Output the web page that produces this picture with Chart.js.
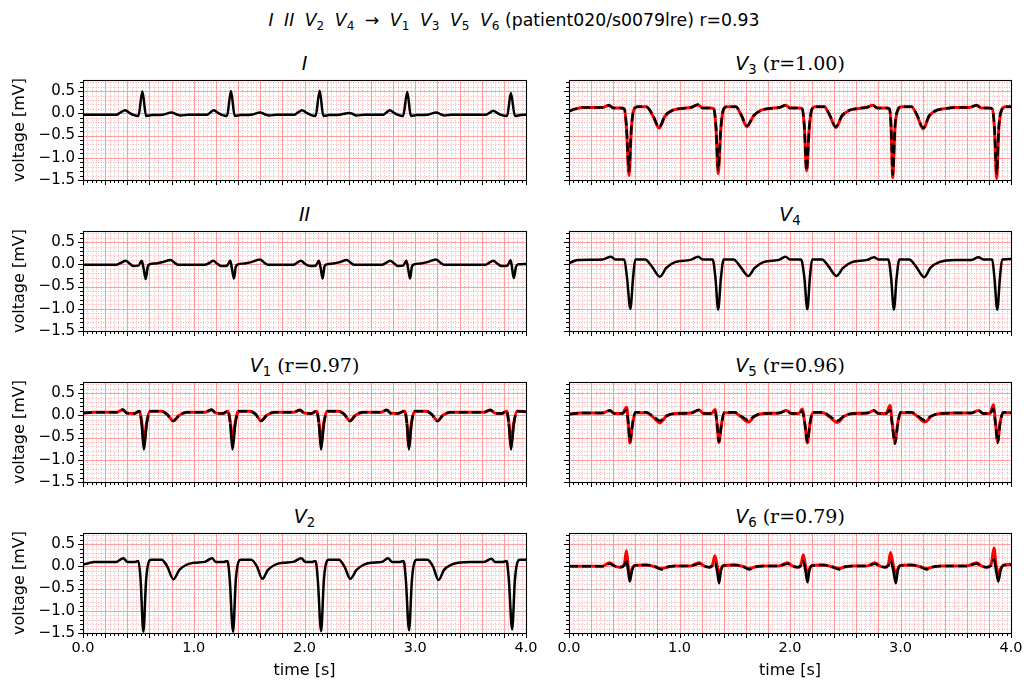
<!DOCTYPE html>
<html><head><meta charset="utf-8">
<script src="https://cdn.jsdelivr.net/npm/chart.js@4.4.1/dist/chart.umd.min.js"></script>
<style>
html,body{margin:0;padding:0;background:#fff;width:1028px;height:685px;overflow:hidden;font-family:'DejaVu Sans';}
canvas{position:absolute;}
.ttl{position:absolute;text-align:center;font-size:19px;line-height:22px;color:#000;white-space:nowrap;font-family:'DejaVu Sans';}
.ttl sub{font-size:0.7em;vertical-align:-0.3em;line-height:0;font-style:normal;}
.serif{font-family:'DejaVu Serif';}
.math{word-spacing:5px;}
</style></head><body>
<div class="ttl" style="left:0;width:1028px;top:9px;font-size:17.3px"><span class="math"><i>I</i> <i>II</i> <i>V</i><sub>2</sub> <i>V</i><sub>4</sub> → <i>V</i><sub>1</sub> <i>V</i><sub>3</sub> <i>V</i><sub>5</sub> <i>V</i><sub>6</sub></span> (patient020/s0079lre) r=0.93</div>
<div class="ttl" style="left:83px;width:443px;top:52px"><i>I</i></div>
<div class="ttl" style="left:569px;width:442px;top:52px"><i>V</i><sub>3</sub> <span class="serif">(r=1.00)</span></div>
<div class="ttl" style="left:83px;width:443px;top:203px"><i>II</i></div>
<div class="ttl" style="left:569px;width:442px;top:203px"><i>V</i><sub>4</sub></div>
<div class="ttl" style="left:83px;width:443px;top:354px"><i>V</i><sub>1</sub> <span class="serif">(r=0.97)</span></div>
<div class="ttl" style="left:569px;width:442px;top:354px"><i>V</i><sub>5</sub> <span class="serif">(r=0.96)</span></div>
<div class="ttl" style="left:83px;width:443px;top:505px"><i>V</i><sub>2</sub></div>
<div class="ttl" style="left:569px;width:442px;top:505px"><i>V</i><sub>6</sub> <span class="serif">(r=0.79)</span></div>
<script>
// ---------------- data ----------------
const xTickLabels = ['0.0','1.0','2.0','3.0','4.0'];
const yTickLabels = ['\u22121.5','\u22121.0','\u22120.5','0.0','0.5'];

const tI = [0.00,0.30,0.34,0.38,0.42,0.46,0.50,0.536,0.57,0.62,0.72,0.80,0.84,0.88,0.95,
  1.12,1.15,1.18,1.22,1.26,1.30,1.336,1.37,1.42,1.52,1.60,1.64,1.68,1.75,
  1.91,1.94,1.978,2.02,2.06,2.10,2.137,2.17,2.22,2.32,2.405,2.44,2.47,2.54,
  2.71,2.74,2.77,2.81,2.85,2.89,2.928,2.96,3.01,3.11,3.19,3.23,3.26,3.33,
  3.64,3.67,3.704,3.74,3.78,3.83,3.863,3.90,3.95,4.00];
const vI = [-0.03,-0.03,0.02,0.07,0.01,-0.04,-0.06,0.49,-0.06,-0.04,-0.03,0.02,-0.02,-0.05,-0.03,
  -0.03,0.02,0.07,0.01,-0.04,-0.06,0.50,-0.06,-0.04,-0.03,0.02,-0.02,-0.05,-0.03,
  -0.03,0.02,0.07,0.01,-0.04,-0.06,0.51,-0.06,-0.04,-0.03,0.01,-0.02,-0.05,-0.03,
  -0.03,0.02,0.07,0.01,-0.04,-0.06,0.48,-0.06,-0.04,-0.03,0.02,-0.02,-0.05,-0.03,
  -0.03,0.01,0.06,0.01,-0.04,-0.06,0.46,-0.06,-0.04,-0.03];

const tII = [0.00,0.30,0.34,0.385,0.42,0.455,0.50,0.53,0.548,0.566,0.585,0.60,0.66,0.72,0.79,0.83,0.86,
  1.10,1.14,1.177,1.21,1.25,1.30,1.33,1.345,1.363,1.38,1.40,1.46,1.52,1.598,1.64,1.67,
  1.90,1.93,1.968,2.00,2.05,2.10,2.13,2.147,2.164,2.18,2.20,2.26,2.32,2.38,2.42,2.45,
  2.70,2.735,2.772,2.81,2.845,2.89,2.92,2.936,2.953,2.97,2.99,3.05,3.11,3.187,3.23,3.26,
  3.63,3.665,3.705,3.74,3.78,3.83,3.862,3.875,3.89,3.91,3.93,4.00];
const vII = [-0.01,-0.01,0.03,0.08,0.02,-0.04,-0.03,0.08,-0.10,-0.33,-0.05,0.00,0.02,0.05,0.10,0.03,-0.01,
  -0.01,0.03,0.08,0.02,-0.04,-0.03,0.08,-0.10,-0.32,-0.05,0.00,0.02,0.05,0.11,0.03,-0.01,
  -0.01,0.03,0.08,0.02,-0.04,-0.03,0.08,-0.10,-0.32,-0.05,0.00,0.02,0.05,0.10,0.03,-0.01,
  -0.01,0.03,0.08,0.02,-0.04,-0.03,0.08,-0.10,-0.32,-0.05,0.00,0.02,0.05,0.11,0.03,-0.01,
  -0.01,0.03,0.08,0.02,-0.04,-0.03,0.09,-0.10,-0.31,-0.05,0.00,0.01];

const tV1 = [0.00,0.10,0.30,0.358,0.40,0.46,0.51,0.53,0.55,0.575,0.605,0.71,0.76,0.815,0.87,0.94,
  1.10,1.162,1.20,1.26,1.31,1.33,1.35,1.375,1.405,1.51,1.56,1.607,1.66,1.73,
  1.90,1.96,2.00,2.06,2.11,2.13,2.15,2.175,2.205,2.31,2.36,2.41,2.46,2.53,
  2.69,2.742,2.78,2.84,2.905,2.925,2.943,2.965,2.995,3.10,3.15,3.20,3.25,3.32,
  3.62,3.68,3.72,3.78,3.825,3.845,3.865,3.89,3.92,4.00];
const vV1 = [0.05,0.07,0.07,0.13,0.04,0.04,0.10,-0.20,-0.77,-0.20,0.09,0.09,0.02,-0.13,0.00,0.07,
  0.07,0.13,0.04,0.04,0.10,-0.20,-0.77,-0.20,0.09,0.09,0.02,-0.13,0.00,0.07,
  0.07,0.12,0.04,0.04,0.10,-0.20,-0.77,-0.20,0.09,0.09,0.02,-0.13,0.00,0.07,
  0.07,0.12,0.04,0.04,0.10,-0.20,-0.77,-0.20,0.09,0.09,0.02,-0.13,0.00,0.07,
  0.07,0.12,0.04,0.04,0.10,-0.20,-0.77,-0.20,0.09,0.08];
const pV1 = [0.05,0.07,0.07,0.12,0.05,0.04,0.09,-0.15,-0.59,-0.15,0.09,0.09,0.02,-0.12,0.00,0.07,
  0.07,0.12,0.05,0.04,0.09,-0.15,-0.55,-0.15,0.09,0.09,0.02,-0.12,0.00,0.07,
  0.07,0.12,0.05,0.04,0.09,-0.15,-0.60,-0.15,0.09,0.09,0.02,-0.12,0.00,0.07,
  0.07,0.12,0.05,0.04,0.09,-0.18,-0.70,-0.18,0.09,0.09,0.02,-0.12,0.00,0.07,
  0.07,0.12,0.05,0.04,0.09,-0.16,-0.62,-0.16,0.09,0.08];

const tV2 = [0.00,0.05,0.10,0.30,0.364,0.40,0.47,0.50,0.52,0.545,0.57,0.60,0.62,0.71,0.76,0.816,0.87,0.93,1.00,
  1.10,1.165,1.20,1.27,1.305,1.325,1.355,1.38,1.41,1.43,1.52,1.57,1.62,1.67,1.73,1.80,
  1.90,1.97,2.01,2.07,2.10,2.12,2.15,2.175,2.205,2.225,2.31,2.36,2.414,2.47,2.53,2.60,
  2.70,2.754,2.79,2.86,2.895,2.915,2.944,2.97,3.00,3.02,3.11,3.16,3.21,3.26,3.32,3.39,
  3.50,3.62,3.688,3.72,3.79,3.825,3.845,3.875,3.90,3.93,3.95,4.00];
const vV2 = [0.04,0.07,0.10,0.10,0.18,0.10,0.10,0.12,-0.30,-1.47,-0.30,0.13,0.15,0.15,0.00,-0.29,-0.08,0.03,0.08,
  0.10,0.18,0.10,0.10,0.12,-0.30,-1.47,-0.30,0.13,0.15,0.15,0.00,-0.28,-0.08,0.03,0.08,
  0.10,0.18,0.10,0.10,0.12,-0.30,-1.46,-0.30,0.13,0.15,0.15,0.00,-0.28,-0.08,0.03,0.08,
  0.10,0.18,0.10,0.10,0.12,-0.30,-1.44,-0.30,0.13,0.15,0.15,0.00,-0.31,-0.08,0.03,0.08,
  0.10,0.10,0.17,0.10,0.10,0.12,-0.30,-1.42,-0.30,0.13,0.15,0.15];

const tV3 = [0.00,0.06,0.12,0.30,0.362,0.40,0.47,0.50,0.52,0.543,0.565,0.59,0.62,0.70,0.76,0.815,0.87,0.94,1.02,
  1.10,1.168,1.21,1.28,1.31,1.33,1.35,1.375,1.40,1.43,1.51,1.56,1.61,1.67,1.74,1.82,
  1.90,1.962,2.00,2.08,2.11,2.13,2.15,2.175,2.20,2.23,2.31,2.36,2.415,2.47,2.54,2.62,
  2.69,2.75,2.79,2.87,2.90,2.915,2.93,2.95,2.98,3.01,3.10,3.15,3.206,3.26,3.33,3.41,
  3.50,3.62,3.69,3.73,3.80,3.83,3.85,3.87,3.89,3.92,3.95,4.00];
const vV3 = [0.05,0.10,0.13,0.13,0.18,0.12,0.12,0.10,-0.30,-1.30,-0.30,0.10,0.15,0.15,-0.05,-0.31,-0.05,0.07,0.11,
  0.13,0.20,0.12,0.12,0.10,-0.30,-1.27,-0.30,0.10,0.15,0.15,-0.04,-0.28,-0.05,0.07,0.11,
  0.13,0.18,0.12,0.12,0.10,-0.30,-1.29,-0.30,0.10,0.15,0.15,-0.04,-0.30,-0.05,0.07,0.11,
  0.13,0.18,0.12,0.12,0.10,-0.30,-1.38,-0.30,0.10,0.15,0.15,-0.04,-0.33,-0.05,0.07,0.11,
  0.13,0.13,0.18,0.12,0.12,0.10,-0.30,-1.35,-0.30,0.10,0.15,0.15];
const pV3 = [0.05,0.10,0.13,0.13,0.18,0.12,0.12,0.10,-0.32,-1.40,-0.32,0.10,0.15,0.15,-0.06,-0.33,-0.06,0.07,0.11,
  0.13,0.19,0.12,0.12,0.10,-0.32,-1.36,-0.32,0.10,0.15,0.15,-0.05,-0.30,-0.06,0.07,0.11,
  0.13,0.18,0.12,0.12,0.10,-0.31,-1.30,-0.31,0.10,0.15,0.15,-0.05,-0.32,-0.06,0.07,0.11,
  0.13,0.18,0.12,0.12,0.10,-0.33,-1.45,-0.33,0.10,0.15,0.15,-0.05,-0.35,-0.06,0.07,0.11,
  0.13,0.13,0.18,0.12,0.12,0.10,-0.33,-1.47,-0.33,0.10,0.15,0.15];

const tV4 = [0.00,0.04,0.08,0.30,0.38,0.42,0.50,0.525,0.555,0.58,0.60,0.69,0.75,0.823,0.88,0.96,
  1.10,1.17,1.21,1.30,1.325,1.35,1.375,1.40,1.49,1.55,1.623,1.68,1.76,
  1.90,1.96,2.00,2.10,2.13,2.157,2.18,2.20,2.29,2.35,2.42,2.48,2.56,
  2.70,2.76,2.80,2.89,2.915,2.94,2.965,2.99,3.08,3.14,3.215,3.27,3.35,
  3.50,3.64,3.705,3.75,3.83,3.85,3.876,3.90,3.92,4.00];
const vV4 = [0.02,0.07,0.10,0.11,0.17,0.11,0.11,-0.30,-1.00,-0.30,0.11,0.11,-0.05,-0.28,-0.08,0.05,
  0.10,0.17,0.11,0.11,-0.30,-1.02,-0.30,0.11,0.11,-0.05,-0.26,-0.08,0.05,
  0.10,0.17,0.11,0.11,-0.30,-1.01,-0.30,0.11,0.11,-0.05,-0.26,-0.08,0.05,
  0.10,0.16,0.11,0.11,-0.30,-1.02,-0.30,0.11,0.11,-0.05,-0.29,-0.08,0.05,
  0.10,0.10,0.16,0.11,0.11,-0.30,-1.02,-0.30,0.11,0.12];

const tV5 = [0.00,0.10,0.30,0.37,0.41,0.48,0.522,0.537,0.552,0.575,0.60,0.70,0.76,0.823,0.88,0.96,
  1.10,1.176,1.22,1.29,1.322,1.34,1.357,1.38,1.405,1.50,1.56,1.623,1.68,1.76,
  1.90,1.97,2.01,2.08,2.11,2.135,2.157,2.18,2.205,2.30,2.36,2.43,2.49,2.57,
  2.70,2.76,2.80,2.87,2.905,2.925,2.95,2.975,3.00,3.10,3.16,3.22,3.28,3.36,
  3.50,3.64,3.705,3.75,3.81,3.84,3.86,3.88,3.90,3.93,4.00];
const vV5 = [0.03,0.05,0.05,0.11,0.04,0.04,0.11,-0.20,-0.59,-0.20,0.07,0.07,-0.02,-0.12,-0.01,0.04,
  0.05,0.12,0.04,0.04,0.09,-0.20,-0.59,-0.20,0.07,0.07,-0.02,-0.11,-0.01,0.04,
  0.05,0.11,0.04,0.04,0.10,-0.20,-0.60,-0.20,0.07,0.07,-0.02,-0.12,-0.01,0.04,
  0.05,0.11,0.04,0.04,0.12,-0.20,-0.64,-0.20,0.07,0.07,-0.02,-0.11,-0.01,0.04,
  0.05,0.05,0.11,0.04,0.04,0.15,-0.20,-0.62,-0.20,0.07,0.06];
const pV5 = [0.03,0.05,0.05,0.11,0.04,0.04,0.18,-0.20,-0.62,-0.20,0.06,0.06,-0.04,-0.17,-0.02,0.04,
  0.05,0.12,0.04,0.04,0.13,-0.20,-0.61,-0.20,0.06,0.06,-0.04,-0.15,-0.02,0.04,
  0.05,0.11,0.04,0.04,0.14,-0.20,-0.62,-0.20,0.06,0.06,-0.04,-0.16,-0.02,0.04,
  0.05,0.11,0.04,0.04,0.22,-0.18,-0.59,-0.18,0.06,0.06,-0.04,-0.15,-0.02,0.04,
  0.05,0.05,0.11,0.04,0.04,0.24,-0.18,-0.59,-0.18,0.06,0.06];

const tV6 = [0.00,0.30,0.368,0.41,0.46,0.50,0.52,0.535,0.55,0.57,0.595,0.70,0.78,0.836,0.90,0.96,
  1.10,1.177,1.22,1.27,1.30,1.32,1.34,1.358,1.375,1.40,1.50,1.58,1.63,1.69,1.76,
  1.90,1.977,2.02,2.07,2.10,2.12,2.14,2.158,2.175,2.20,2.30,2.38,2.445,2.50,2.57,
  2.70,2.768,2.81,2.86,2.89,2.91,2.935,2.958,2.975,3.00,3.10,3.18,3.236,3.30,3.37,
  3.60,3.69,3.73,3.78,3.82,3.846,3.865,3.885,3.905,3.93,4.00];
const vV6 = [0.00,0.00,0.06,0.01,-0.02,0.02,0.12,-0.10,-0.34,-0.10,0.02,0.03,-0.01,-0.07,-0.01,0.01,
  0.01,0.06,0.01,-0.02,0.02,0.08,-0.10,-0.38,-0.10,0.02,0.03,-0.01,-0.07,-0.01,0.01,
  0.01,0.06,0.01,-0.02,0.02,0.12,-0.10,-0.36,-0.10,0.02,0.03,-0.01,-0.07,-0.01,0.01,
  0.01,0.06,0.01,-0.02,0.02,0.12,-0.10,-0.38,-0.10,0.02,0.03,-0.01,-0.07,-0.01,0.01,
  0.01,0.06,0.01,-0.02,0.02,0.16,-0.10,-0.34,-0.10,0.02,0.04];
const pV6 = [0.00,0.00,0.08,0.01,-0.02,0.04,0.35,0.02,-0.22,-0.06,0.02,0.03,-0.01,-0.05,-0.01,0.01,
  0.01,0.08,0.01,-0.02,0.04,0.24,0.02,-0.22,-0.06,0.02,0.03,-0.01,-0.05,-0.01,0.01,
  0.01,0.08,0.01,-0.02,0.04,0.26,0.02,-0.22,-0.06,0.02,0.03,-0.01,-0.05,-0.01,0.01,
  0.01,0.08,0.01,-0.02,0.04,0.31,0.02,-0.20,-0.06,0.02,0.03,-0.01,-0.05,-0.01,0.01,
  0.01,0.08,0.01,-0.02,0.04,0.41,0.02,-0.18,-0.06,0.02,0.04];

// ---------------- layout ----------------
const X_MIN = 0, X_MAX = 4, Y_MIN = -1.5, Y_MAX = 0.75;
const PANEL_TOPS = [80, 231, 382, 533];

const panels = [
  {t:tI,  truth:vI,  pred:null, col:0, row:0},
  {t:tV3, truth:vV3, pred:pV3,  col:1, row:0},
  {t:tII, truth:vII, pred:null, col:0, row:1},
  {t:tV4, truth:vV4, pred:null, col:1, row:1},
  {t:tV1, truth:vV1, pred:pV1,  col:0, row:2},
  {t:tV5, truth:vV5, pred:pV5,  col:1, row:2},
  {t:tV2, truth:vV2, pred:null, col:0, row:3},
  {t:tV6, truth:vV6, pred:pV6,  col:1, row:3}
];

const near = (v, step) => Math.abs(v / step - Math.round(v / step)) < 1e-6;

const paper = {
  id: 'paper',
  beforeDatasetsDraw(chart) {
    const {ctx, chartArea: a, scales: {x, y}} = chart;
    ctx.save();
    ctx.beginPath(); ctx.rect(a.left, a.top, a.right - a.left, a.bottom - a.top); ctx.clip();
    ctx.lineWidth = 0.8; ctx.strokeStyle = 'rgba(255,0,0,0.38)'; ctx.setLineDash([1, 1.5]);
    ctx.beginPath();
    for (let k = 0; k <= 100; k++) {
      if (k % 5 === 0) continue;
      const px = Math.round(x.getPixelForValue(k * 0.04)) + 0.5;
      ctx.moveTo(px, a.top); ctx.lineTo(px, a.bottom);
    }
    for (let k = -15; k <= 7; k++) {
      if (k % 5 === 0) continue;
      const py = Math.round(y.getPixelForValue(k * 0.1)) + 0.5;
      ctx.moveTo(a.left, py); ctx.lineTo(a.right, py);
    }
    ctx.stroke();
    ctx.setLineDash([]); ctx.lineWidth = 1.1; ctx.strokeStyle = 'rgba(255,0,0,0.38)';
    ctx.beginPath();
    for (let k = 0; k <= 20; k++) {
      const px = Math.round(x.getPixelForValue(k * 0.2)) + 0.5;
      ctx.moveTo(px, a.top); ctx.lineTo(px, a.bottom);
    }
    for (let k = -3; k <= 1; k++) {
      const py = Math.round(y.getPixelForValue(k * 0.5)) + 0.5;
      ctx.moveTo(a.left, py); ctx.lineTo(a.right, py);
    }
    ctx.stroke();
    ctx.restore();
  },
  afterDatasetsDraw(chart) {
    const {ctx, chartArea: a, scales: {x, y}} = chart;
    ctx.save();
    ctx.strokeStyle = '#000';
    ctx.lineWidth = 1;
    ctx.beginPath();
    for (let k = 0; k <= 100; k++) {
      const px = Math.round(x.getPixelForValue(k * 0.04)) + 0.5;
      const len = (k % 5 === 0) ? 5 : 3;
      ctx.moveTo(px, a.bottom); ctx.lineTo(px, a.bottom + len);
    }
    for (let k = -15; k <= 7; k++) {
      const py = Math.round(y.getPixelForValue(k * 0.1)) + 0.5;
      const len = (k % 5 === 0) ? 5 : 3;
      ctx.moveTo(a.left, py); ctx.lineTo(a.left - len, py);
    }
    ctx.stroke();
    ctx.lineWidth = 1.1;
    ctx.strokeRect(Math.round(a.left) + 0.5, Math.round(a.top) + 0.5,
                   Math.round(a.right) - Math.round(a.left), Math.round(a.bottom) - Math.round(a.top));
    ctx.restore();
  }
};

Chart.defaults.font.family = 'DejaVu Sans';
Chart.defaults.color = '#000';

panels.forEach(p => {
  const bottom = p.row === 3;
  const left = p.col === 0;
  const xH = bottom ? 50 : 9;
  const cv = document.createElement('canvas');
  const cw = left ? 540 : 480;
  const ch = 6 + 100 + xH;
  cv.width = cw; cv.height = ch;
  cv.style.left = (left ? 0 : 545) + 'px';
  cv.style.top = (PANEL_TOPS[p.row] - 6) + 'px';
  cv.style.width = cw + 'px'; cv.style.height = ch + 'px';
  document.body.appendChild(cv);

  // where the black trace reaches beyond the red one, it is seen on its own (solid)
  const beyond = (i) => p.pred && (Math.abs(p.truth[i]) - Math.abs(p.pred[i]) > 0.06);
  const datasets = [{
    data: p.t.map((tt, i) => ({x: tt, y: p.truth[i]})),
    borderColor: '#000', borderWidth: 2.5,
    borderDash: p.pred ? [9, 4] : [],
    segment: p.pred ? {borderDash: (c) => (beyond(c.p0DataIndex) || beyond(c.p1DataIndex)) ? [] : undefined} : undefined,
    pointRadius: 0, cubicInterpolationMode: 'monotone', order: 0
  }];
  if (p.pred) {
    datasets.push({
      data: p.t.map((tt, i) => ({x: tt, y: p.pred[i]})),
      borderColor: '#ff0000', borderWidth: 3,
      pointRadius: 0, cubicInterpolationMode: 'monotone', order: 1
    });
  }

  new Chart(cv, {
    type: 'line',
    data: {datasets},
    plugins: [paper],
    options: {
      responsive: false, animation: false, devicePixelRatio: 1,
      layout: {padding: {left: 0, right: 14, top: 6, bottom: 0}},
      plugins: {legend: {display: false}, tooltip: {enabled: false}},
      scales: {
        x: {
          type: 'linear', min: X_MIN, max: X_MAX,
          grid: {display: false, drawTicks: false}, border: {display: false},
          ticks: {display: bottom, stepSize: 1, autoSkip: false, maxRotation: 0, padding: 7,
                  font: {size: 14.5},
                  callback: (v) => { const i = Math.round(v); return near(v, 1) ? xTickLabels[i] : ''; }},
          title: {display: bottom, text: 'time [s]', font: {size: 16}, padding: {top: 0, bottom: 3}},
          afterFit: (s) => { s.height = xH; s.paddingLeft = 0; s.paddingRight = 0; }
        },
        y: {
          type: 'linear', min: Y_MIN, max: Y_MAX,
          grid: {display: false, drawTicks: false}, border: {display: false},
          ticks: {display: left, stepSize: 0.5, includeBounds: false, autoSkip: false, padding: 8,
                  font: {size: 15},
                  callback: (v) => { if (!near(v, 0.5)) return ''; const i = Math.round((v - Y_MIN) / 0.5); return yTickLabels[i]; }},
          title: {display: left, text: 'voltage [mV]', font: {size: 16}, padding: {top: 10, bottom: 0}},
          afterFit: (s) => { s.width = left ? 83 : 24; s.paddingTop = 0; s.paddingBottom = 0; }
        }
      }
    }
  });
});
</script>
</body></html>
